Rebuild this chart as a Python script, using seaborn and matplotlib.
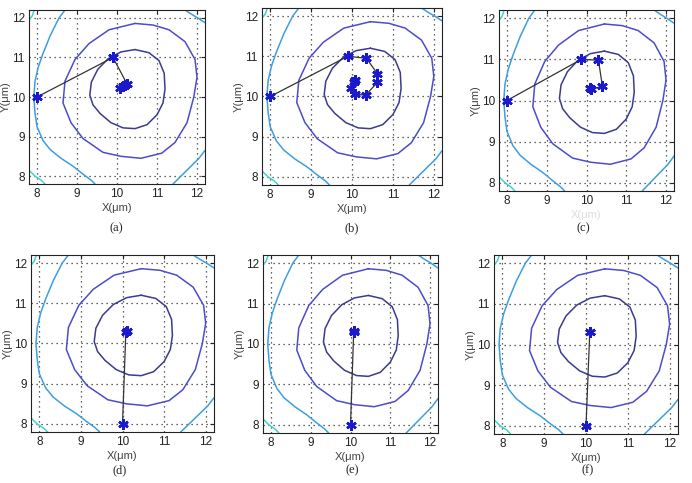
import matplotlib
matplotlib.use("Agg")
import matplotlib.pyplot as plt
import seaborn as sns

# contour rings (same field in every panel)
inner_x = [10.45, 10.8, 11.05, 11.18, 11.2, 11.15, 11.0, 10.75, 10.45, 10.15, 9.85, 9.58, 9.4, 9.32, 9.36, 9.52, 9.78, 10.1, 10.45]
inner_y = [11.2, 11.12, 10.92, 10.6, 10.2, 9.85, 9.55, 9.3, 9.2, 9.22, 9.35, 9.58, 9.8, 10.05, 10.38, 10.7, 10.97, 11.14, 11.2]
mid_x = [10.45, 10.9, 11.3, 11.7, 11.95, 12.0, 11.92, 11.75, 11.45, 11.12, 10.6, 10.1, 9.65, 9.15, 8.85, 8.65, 8.7, 8.95, 9.3, 9.8, 10.45]
mid_y = [11.86, 11.82, 11.7, 11.4, 10.95, 10.5, 10.0, 9.35, 8.85, 8.58, 8.45, 8.5, 8.6, 8.95, 9.35, 9.85, 10.4, 10.95, 11.35, 11.7, 11.86]
outer_l_x = [8.7, 8.55, 8.33, 8.15, 8.03, 7.95, 7.92, 7.95, 8.0, 8.15, 8.33, 8.6, 8.9, 9.15, 9.35, 9.45]
outer_l_y = [12.2, 12.0, 11.55, 11.1, 10.75, 10.4, 10.0, 9.6, 9.25, 8.9, 8.67, 8.45, 8.25, 8.05, 7.9, 7.8]
outer_tr_x = [11.7, 11.85, 12.05, 12.2]
outer_tr_y = [12.2, 12.1, 11.98, 11.88]
outer_br_x = [11.4, 11.6, 11.85, 12.05, 12.2]
outer_br_y = [7.8, 8.0, 8.25, 8.45, 8.65]
cyan_tl_x = [7.8, 7.88, 7.93]
cyan_tl_y = [11.95, 12.05, 12.2]
cyan_bl_x = [7.8, 7.95, 8.1, 8.2]
cyan_bl_y = [8.15, 8.0, 7.9, 7.8]

# search paths per panel
path_a_x = [8.0, 9.9, 10.25, 10.15, 10.08, 10.2]
path_a_y = [10.0, 11.0, 10.33, 10.27, 10.24, 10.3]
path_b_x = [8.0, 9.9, 10.35, 10.62, 10.62, 10.33, 10.07, 9.98, 10.05, 10.08]
path_b_y = [10.0, 11.0, 10.95, 10.57, 10.35, 10.03, 10.06, 10.22, 10.36, 10.42]
path_c_x = [8.0, 9.87, 10.3, 10.4, 10.12, 10.1]
path_c_y = [10.0, 11.0, 10.98, 10.35, 10.27, 10.3]
path_d_x = [10.0, 10.08, 10.1]
path_d_y = [8.0, 10.28, 10.3]
path_e_x = [10.0, 10.08, 10.09]
path_e_y = [8.0, 10.29, 10.31]
path_f_x = [10.0, 10.09, 10.1]
path_f_y = [8.0, 10.3, 10.31]

panels = [
    ("(a)", path_a_x, path_a_y, (29, 10, 205, 184), (116, 228), True),
    ("(b)", path_b_x, path_b_y, (262, 8, 442, 185), (352, 228), True),
    ("(c)", path_c_x, path_c_y, (499, 10, 674, 191), (583, 228), False),
    ("(d)", path_d_x, path_d_y, (31, 255, 214, 432), (120, 470), True),
    ("(e)", path_e_x, path_e_y, (263, 255, 438, 433), (352, 470), True),
    ("(f)", path_f_x, path_f_y, (494, 255, 678, 434), (588, 470), True),
]

sns.set_style("white")
plt.rcParams["font.family"] = ["Liberation Sans", "DejaVu Sans"]

W, H = 692, 483
fig = plt.figure(figsize=(W / 100, H / 100), dpi=100)

rings = [
    (inner_x, inner_y, "#3b3b8f"),
    (mid_x, mid_y, "#4c4ccc"),
    (outer_l_x, outer_l_y, "#3d9fe0"),
    (outer_tr_x, outer_tr_y, "#3d9fe0"),
    (outer_br_x, outer_br_y, "#3d9fe0"),
    (cyan_tl_x, cyan_tl_y, "#3fd6c8"),
    (cyan_bl_x, cyan_bl_y, "#3fd6c8"),
]

for label, px, py, (l, t, r, b), (cx, cy), show_xlabel in panels:
    ax = fig.add_axes([l / W, 1 - b / H, (r - l) / W, (b - t) / H])
    for rx, ry, col in rings:
        sns.lineplot(x=rx, y=ry, sort=False, estimator=None, color=col, lw=1.1, ax=ax)
    sns.lineplot(x=px, y=py, sort=False, estimator=None, color="#333333", lw=0.9, ax=ax)
    ax.plot(px, py, linestyle="none", marker=(6, 2, 0), ms=7.5, mew=1.8, color="#1a1acc")
    ax.set_xlim(7.8, 12.2)
    ax.set_ylim(7.8, 12.2)
    ax.set_xticks([8, 9, 10, 11, 12])
    ax.set_yticks([8, 9, 10, 11, 12])
    ax.grid(True, linestyle=(0, (1, 3)), color="#333333", lw=0.9)
    ax.tick_params(direction="in", length=3, labelsize=8.5, colors="#222222",
                   top=True, right=True, pad=3)
    for s in ax.spines.values():
        s.set_color("#222222")
        s.set_linewidth(0.8)
    ax.set_ylabel("Y(\u03bcm)", fontsize=8, color="#444444", labelpad=1)
    ax.set_xlabel("X(\u03bcm)", fontsize=8, color="#444444" if show_xlabel else "#dddddd", labelpad=2)
    fig.text(cx / W, 1 - cy / H, label, ha="center", va="center",
             family="Liberation Serif", fontsize=9)

fig.savefig("out.png", dpi=100)
